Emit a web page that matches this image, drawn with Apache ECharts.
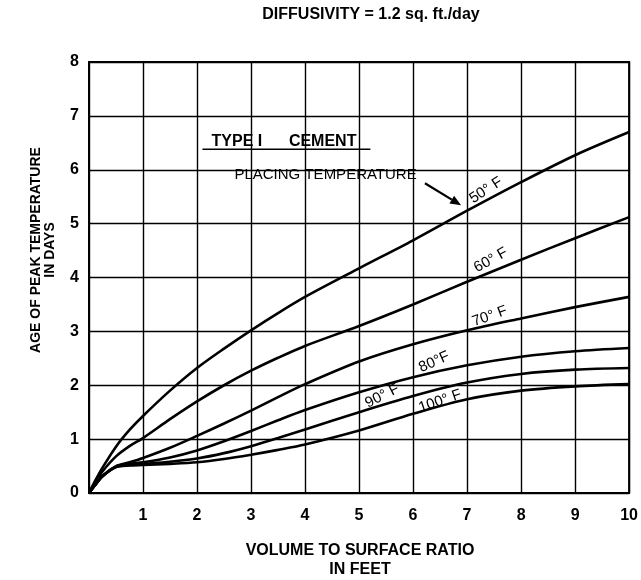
<!DOCTYPE html>
<html>
<head>
<meta charset="utf-8">
<script src="https://cdn.jsdelivr.net/npm/echarts@6/dist/echarts.min.js"></script>
<style>
  html, body { margin: 0; padding: 0; background: #fff; }
  #chart { width: 641px; height: 580px; }
</style>
</head>
<body>
<div id="chart"></div>
<script>
// Volume-to-surface ratio (ft) at which each curve is sampled
const ratio = [0, 0.1, 0.25, 0.5, 0.75, 1, 1.5, 2, 2.5, 3, 3.5, 4, 5, 6, 7, 8, 9, 10];

// Age of peak temperature (days) for each placing temperature
const age50F  = [0, 0.20, 0.47, 0.86, 1.17, 1.43, 1.90, 2.32, 2.68, 3.02, 3.34, 3.64, 4.17, 4.69, 5.24, 5.77, 6.27, 6.70];
const age60F  = [0, 0.17, 0.40, 0.68, 0.87, 1.02, 1.37, 1.70, 2.00, 2.27, 2.51, 2.73, 3.10, 3.50, 3.92, 4.33, 4.73, 5.12];
const age70F  = [0, 0.13, 0.32, 0.50, 0.57, 0.65, 0.84, 1.06, 1.29, 1.53, 1.78, 2.02, 2.44, 2.76, 3.02, 3.24, 3.45, 3.64];
const age80F  = [0, 0.13, 0.31, 0.49, 0.54, 0.57, 0.66, 0.79, 0.96, 1.15, 1.35, 1.54, 1.87, 2.15, 2.37, 2.53, 2.63, 2.69];
const age90F  = [0, 0.13, 0.31, 0.48, 0.52, 0.54, 0.58, 0.64, 0.74, 0.87, 1.02, 1.18, 1.50, 1.80, 2.05, 2.21, 2.29, 2.32];
const age100F = [0, 0.13, 0.31, 0.48, 0.51, 0.52, 0.54, 0.57, 0.63, 0.71, 0.80, 0.90, 1.16, 1.47, 1.74, 1.90, 1.98, 2.02];

const curveNames = ['50° F', '60° F', '70° F', '80°F', '90° F', '100° F'];
const curveValues = [age50F, age60F, age70F, age80F, age90F, age100F];

// Axis ranges and tick steps
const xRange = [0, 10];
const yRange = [0, 8];
const tickStep = 1;

// Text
const titleText = 'DIFFUSIVITY = 1.2 sq. ft./day';
const xNameLines = ['VOLUME TO SURFACE RATIO', 'IN FEET'];
const yNameLines = ['AGE OF PEAK TEMPERATURE', 'IN DAYS'];
const cementText = 'TYPE I      CEMENT';
const placingText = 'PLACING TEMPERATURE';

// Where each curve name sits (data coordinates) and its slant in degrees
const curveLabelAt = [[7.35, 5.62], [7.44, 4.32], [7.42, 3.28], [6.39, 2.43], [5.43, 1.80], [6.50, 1.70]];
const curveLabelAngle = [33, 29, 20, 24, 27, 19];

const FONT = '"Liberation Sans", Arial, Helvetica, sans-serif';

const chart = echarts.init(document.getElementById('chart'), null, { renderer: 'canvas' });

const series = curveValues.map((vals, i) => ({
  name: curveNames[i],
  type: 'line',
  data: ratio.map((x, k) => [x, vals[k]]),
  smooth: 0.3,
  symbol: 'none',
  lineStyle: { color: '#000', width: 2.6 },
  silent: true,
  z: 5
}));

chart.setOption({
  animation: false,
  backgroundColor: '#fff',
  grid: {
    left: 89, top: 62, width: 543, height: 431,
    show: true, borderColor: '#000', borderWidth: 2, backgroundColor: 'transparent'
  },
  xAxis: {
    type: 'value', min: xRange[0], max: xRange[1], interval: tickStep,
    axisLine: { show: false },
    axisTick: { show: false },
    splitLine: { show: true, lineStyle: { color: '#000', width: 1.4 } },
    axisLabel: {
      color: '#000', fontFamily: FONT, fontWeight: 'bold', fontSize: 16, margin: 15,
      formatter: v => (v === 0 ? '' : String(v))
    }
  },
  yAxis: {
    type: 'value', min: yRange[0], max: yRange[1], interval: tickStep,
    axisLine: { show: false },
    axisTick: { show: false },
    splitLine: { show: true, lineStyle: { color: '#000', width: 1.4 } },
    axisLabel: { color: '#000', fontFamily: FONT, fontWeight: 'bold', fontSize: 16, margin: 10 }
  },
  series: series
});

// Annotations placed from data coordinates
const px = p => chart.convertToPixel({ gridIndex: 0 }, p);
const graphics = [];

graphics.push({
  type: 'text', x: 371, y: 15,
  style: { text: titleText, fill: '#000', font: 'bold 16px ' + FONT, align: 'center', verticalAlign: 'middle' }
});
graphics.push({
  type: 'text', x: 360, y: 541,
  style: { text: xNameLines.join('\n'), fill: '#000', font: 'bold 16px ' + FONT, align: 'center', lineHeight: 19 }
});
graphics.push({
  type: 'text', x: 43, y: 250, rotation: Math.PI / 2,
  style: { text: yNameLines.join('\n'), fill: '#000', font: 'bold 14px ' + FONT, align: 'center', verticalAlign: 'middle', lineHeight: 14 }
});

curveNames.forEach((name, i) => {
  const p = px(curveLabelAt[i]);
  graphics.push({
    type: 'text', x: p[0], y: p[1], rotation: curveLabelAngle[i] * Math.PI / 180, z: 10,
    style: { text: name, fill: '#000', font: '15px ' + FONT, align: 'center', verticalAlign: 'middle' }
  });
});

// Cement type heading with its underline
const cem = px([3.61, 6.53]);
graphics.push({
  type: 'text', x: cem[0], y: cem[1], z: 10,
  style: { text: cementText, fill: '#000', font: 'bold 16px ' + FONT, align: 'center', verticalAlign: 'middle' }
});
const u0 = px([2.1, 6.38]), u1 = px([5.21, 6.38]);
graphics.push({
  type: 'line', z: 10,
  shape: { x1: u0[0], y1: u0[1], x2: u1[0], y2: u1[1] },
  style: { stroke: '#000', lineWidth: 1.5 }
});

// Placing temperature note with arrow to the 50° F curve
const pl = px([4.38, 5.9]);
graphics.push({
  type: 'text', x: pl[0], y: pl[1], z: 10,
  style: { text: placingText, fill: '#000', font: '15px ' + FONT, align: 'center', verticalAlign: 'middle' }
});
const tail = px([6.22, 5.75]), tip = px([6.89, 5.34]);
const ang = Math.atan2(tip[1] - tail[1], tip[0] - tail[0]);
const hl = 11, hw = 4.5;
const bx = tip[0] - hl * Math.cos(ang), by = tip[1] - hl * Math.sin(ang);
graphics.push({
  type: 'line', z: 10,
  shape: { x1: tail[0], y1: tail[1], x2: bx, y2: by },
  style: { stroke: '#000', lineWidth: 2.2 }
});
graphics.push({
  type: 'polygon', z: 10,
  shape: { points: [
    tip,
    [bx + hw * Math.sin(ang), by - hw * Math.cos(ang)],
    [bx - hw * Math.sin(ang), by + hw * Math.cos(ang)]
  ] },
  style: { fill: '#000' }
});

chart.setOption({ graphic: graphics });
</script>
</body>
</html>
